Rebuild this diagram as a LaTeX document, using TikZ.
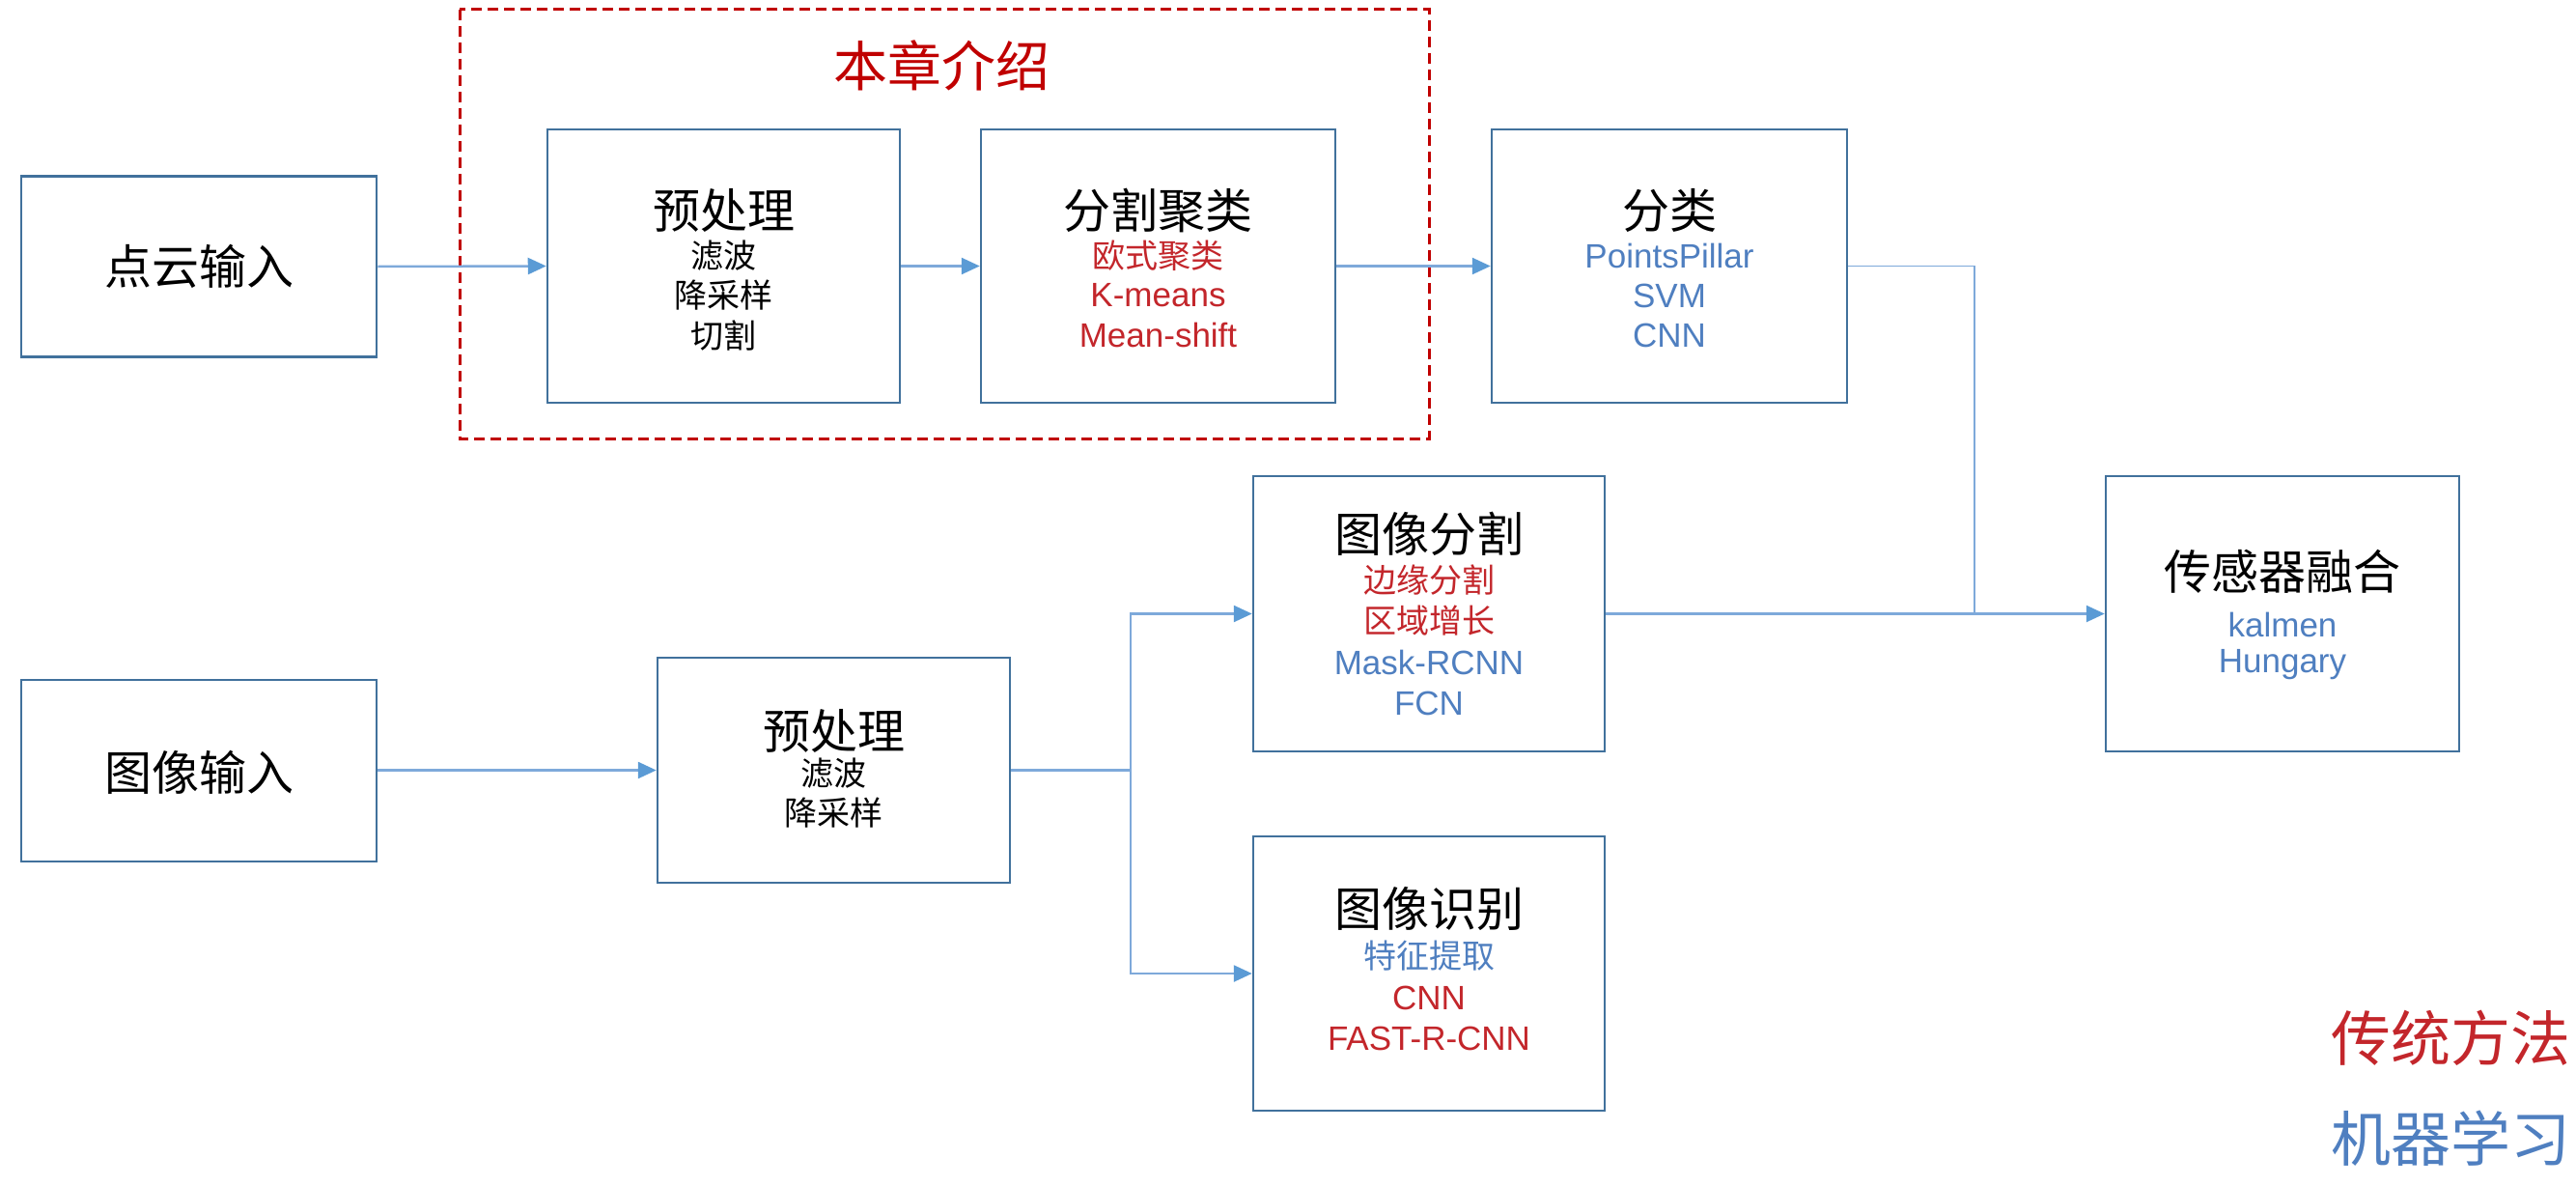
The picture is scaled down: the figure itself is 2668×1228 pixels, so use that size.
\documentclass[tikz,border=0pt]{standalone}
\usepackage{fontspec}
\setmainfont{Liberation Sans}
\newfontfamily\cjk{Noto Sans CJK SC}
\usetikzlibrary{arrows.meta}
\definecolor{boxc}{HTML}{41719C}
\definecolor{arrc}{HTML}{7EA9DA}
\definecolor{tipc}{HTML}{5B9BD5}
\definecolor{redt}{HTML}{C3262B}
\definecolor{bluet}{HTML}{4F7FC0}
\definecolor{dashc}{HTML}{C00000}
\begin{document}
\begin{tikzpicture}[x=1pt,y=-1pt,
  box/.style={draw=boxc, line width=2.5pt, fill=white, inner sep=0pt},
  ttl/.style={font=\cjk\fontsize{49}{54}\selectfont, text=black, inner sep=0pt},
  subc/.style={font=\cjk\fontsize{34}{40}\selectfont, inner sep=0pt},
  subl/.style={font=\fontsize{35}{40}\selectfont, inner sep=0pt},
  conn/.style={draw=arrc, line width=2.5pt, -{Triangle[length=19pt,width=17pt,color=tipc]}},
  plain/.style={draw=arrc, line width=2.5pt},
  thin/.style={draw=arrc, line width=1.5pt}]
\useasboundingbox (0,0) rectangle (2668,1228);

% dashed frame
\draw[dashc, line width=3pt, dash pattern=on 11pt off 6pt] (476,10) rectangle (1480,454);
\node[font=\cjk\fontsize{56}{60}\selectfont, text=dashc, inner sep=0pt] (title) at (975,68) {本章介绍};

% boxes
\node[box, minimum width=368pt, minimum height=187pt] (pcin) at (206,276) {};
\node[box, minimum width=365pt, minimum height=283pt] (pre1) at (749.5,275.5) {};
\node[box, minimum width=367pt, minimum height=283pt] (seg1) at (1199.5,275.5) {};
\node[box, minimum width=368pt, minimum height=283pt] (cls) at (1729,275.5) {};
\node[box, minimum width=364pt, minimum height=285pt] (imgseg) at (1480,635.5) {};
\node[box, minimum width=366pt, minimum height=285pt] (fuse) at (2364,635.5) {};
\node[box, minimum width=368pt, minimum height=188pt] (imgin) at (206,798) {};
\node[box, minimum width=365pt, minimum height=233pt] (pre2) at (863.5,797.5) {};
\node[box, minimum width=364pt, minimum height=284pt] (imgrec) at (1480,1008) {};

% texts
\node[ttl] (tpc) at (206,276) {点云输入};
\node[ttl] (tp1) at (749.5,218) {预处理};
\node[subc] (tp1a) at (749.5,265) {滤波};
\node[subc] (tp1b) at (749.5,306) {降采样};
\node[subc] (tp1c) at (749.5,347) {切割};

\node[ttl] (ts1) at (1199.5,218) {分割聚类};
\node[subc, text=redt] (ts1a) at (1199.5,265) {欧式聚类};
\node[subl, text=redt] (ts1b) at (1199.5,306) {K-means};
\node[subl, text=redt] (ts1c) at (1199.5,347) {Mean-shift};

\node[ttl] (tcl) at (1729,218) {分类};
\node[subl, text=bluet] (tcla) at (1729,265) {PointsPillar};
\node[subl, text=bluet] (tclb) at (1729,306) {SVM};
\node[subl, text=bluet] (tclc) at (1729,347) {CNN};

\node[ttl] (tis) at (1480,553) {图像分割};
\node[subc, text=redt] (tisa) at (1480,601) {边缘分割};
\node[subc, text=redt] (tisb) at (1480,643) {区域增长};
\node[subl, text=bluet] (tisc) at (1480,686) {Mask-RCNN};
\node[subl, text=bluet] (tisd) at (1480,728) {FCN};

\node[ttl] (tfu) at (2364,592) {传感器融合};
\node[subl, text=bluet] (tfua) at (2364,647) {kalmen};
\node[subl, text=bluet] (tfub) at (2364,688) {Hungary};

\node[ttl] (tii) at (206,800) {图像输入};
\node[ttl] (tp2) at (863.5,757) {预处理};
\node[subc] (tp2a) at (863.5,801) {滤波};
\node[subc] (tp2b) at (863.5,842) {降采样};

\node[ttl] (tir) at (1480,941) {图像识别};
\node[subc, text=bluet] (tira) at (1480,990) {特征提取};
\node[subl, text=redt] (tirb) at (1480,1033) {CNN};
\node[subl, text=redt] (tirc) at (1480,1075) {FAST-R-CNN};

% legend
\node[font=\cjk\fontsize{62}{66}\selectfont, text=redt, inner sep=0pt] (leg1) at (2538,1075) {传统方法};
\node[font=\cjk\fontsize{62}{66}\selectfont, text=bluet, inner sep=0pt] (leg2) at (2538,1179) {机器学习};

% connectors
\coordinate (merge) at (2045,635.5);
\coordinate (br) at (1171,797.5);
\draw[conn] (pcin.east) -- (pre1.west);
\draw[conn] (pre1.east) -- (seg1.west);
\draw[conn] (seg1.east) -- (cls.west);
\draw[thin] (cls.east) -| (merge);
\draw[conn] (imgseg.east) -- (fuse.west);
\draw[conn] (imgin.east |- br) -- (pre2.west);
\draw[plain] (pre2.east) -- (br);
\draw[conn] (br) |- (imgseg.west);
\draw[conn] (br) |- (imgrec.west);
\end{tikzpicture}
\end{document}
